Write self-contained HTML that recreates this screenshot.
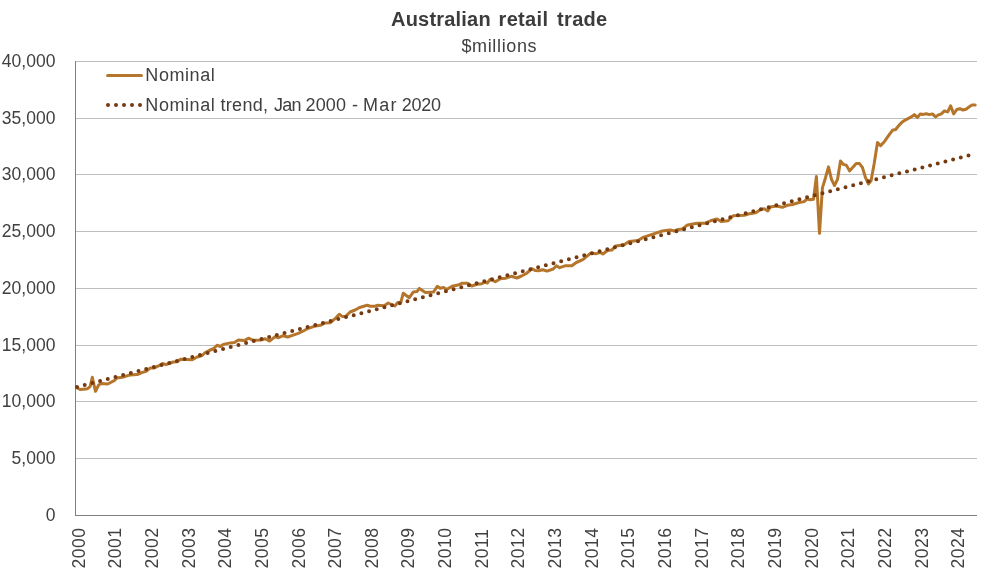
<!DOCTYPE html>
<html lang="en">
<head>
<meta charset="utf-8">
<title>Australian retail trade</title>
<style>
html,body{margin:0;padding:0;background:#fff;}
body{width:996px;height:577px;overflow:hidden;}
svg{display:block;}
</style>
</head>
<body>
<svg width="996" height="577" viewBox="0 0 996 577" font-family="'Liberation Sans', sans-serif" fill="#404040">
<rect width="996" height="577" fill="#ffffff"/>
<line x1="75" y1="61.5" x2="977" y2="61.5" stroke="#bfbfbf" stroke-width="1"/>
<line x1="75" y1="118.5" x2="977" y2="118.5" stroke="#bfbfbf" stroke-width="1"/>
<line x1="75" y1="174.5" x2="977" y2="174.5" stroke="#bfbfbf" stroke-width="1"/>
<line x1="75" y1="231.5" x2="977" y2="231.5" stroke="#bfbfbf" stroke-width="1"/>
<line x1="75" y1="288.5" x2="977" y2="288.5" stroke="#bfbfbf" stroke-width="1"/>
<line x1="75" y1="345.5" x2="977" y2="345.5" stroke="#bfbfbf" stroke-width="1"/>
<line x1="75" y1="401.5" x2="977" y2="401.5" stroke="#bfbfbf" stroke-width="1"/>
<line x1="75" y1="458.5" x2="977" y2="458.5" stroke="#bfbfbf" stroke-width="1"/>
<line x1="75.5" y1="61" x2="75.5" y2="516" stroke="#808080" stroke-width="1"/>
<line x1="75" y1="515.5" x2="977" y2="515.5" stroke="#808080" stroke-width="1"/>
<text y="25.6" font-size="20" font-weight="bold" fill="#3c3c3c"><tspan x="391" letter-spacing="0.2">Australian</tspan> <tspan x="498.5" letter-spacing="0.35">retail</tspan> <tspan x="557.1" letter-spacing="0.3">trade</tspan></text>
<text x="461.4" y="51.6" font-size="18" letter-spacing="0.65">$millions</text>
<text x="55.4" y="66.70" text-anchor="end" font-size="17.5">40,000</text>
<text x="55.4" y="123.70" text-anchor="end" font-size="17.5">35,000</text>
<text x="55.4" y="179.70" text-anchor="end" font-size="17.5">30,000</text>
<text x="55.4" y="236.70" text-anchor="end" font-size="17.5">25,000</text>
<text x="55.4" y="293.70" text-anchor="end" font-size="17.5">20,000</text>
<text x="55.4" y="350.70" text-anchor="end" font-size="17.5">15,000</text>
<text x="55.4" y="406.70" text-anchor="end" font-size="17.5">10,000</text>
<text x="55.4" y="463.70" text-anchor="end" font-size="17.5">5,000</text>
<text x="55.4" y="520.70" text-anchor="end" font-size="17.5">0</text>
<text transform="translate(84.63,568.6) rotate(-90)" font-size="17.6" letter-spacing="0.5">2000</text>
<text transform="translate(121.28,568.6) rotate(-90)" font-size="17.6" letter-spacing="0.5">2001</text>
<text transform="translate(157.93,568.6) rotate(-90)" font-size="17.6" letter-spacing="0.5">2002</text>
<text transform="translate(194.58,568.6) rotate(-90)" font-size="17.6" letter-spacing="0.5">2003</text>
<text transform="translate(231.23,568.6) rotate(-90)" font-size="17.6" letter-spacing="0.5">2004</text>
<text transform="translate(267.88,568.6) rotate(-90)" font-size="17.6" letter-spacing="0.5">2005</text>
<text transform="translate(304.53,568.6) rotate(-90)" font-size="17.6" letter-spacing="0.5">2006</text>
<text transform="translate(341.18,568.6) rotate(-90)" font-size="17.6" letter-spacing="0.5">2007</text>
<text transform="translate(377.83,568.6) rotate(-90)" font-size="17.6" letter-spacing="0.5">2008</text>
<text transform="translate(414.48,568.6) rotate(-90)" font-size="17.6" letter-spacing="0.5">2009</text>
<text transform="translate(451.14,568.6) rotate(-90)" font-size="17.6" letter-spacing="0.5">2010</text>
<text transform="translate(487.79,568.6) rotate(-90)" font-size="17.6" letter-spacing="0.5">2011</text>
<text transform="translate(524.44,568.6) rotate(-90)" font-size="17.6" letter-spacing="0.5">2012</text>
<text transform="translate(561.09,568.6) rotate(-90)" font-size="17.6" letter-spacing="0.5">2013</text>
<text transform="translate(597.74,568.6) rotate(-90)" font-size="17.6" letter-spacing="0.5">2014</text>
<text transform="translate(634.39,568.6) rotate(-90)" font-size="17.6" letter-spacing="0.5">2015</text>
<text transform="translate(671.04,568.6) rotate(-90)" font-size="17.6" letter-spacing="0.5">2016</text>
<text transform="translate(707.69,568.6) rotate(-90)" font-size="17.6" letter-spacing="0.5">2017</text>
<text transform="translate(744.34,568.6) rotate(-90)" font-size="17.6" letter-spacing="0.5">2018</text>
<text transform="translate(780.99,568.6) rotate(-90)" font-size="17.6" letter-spacing="0.5">2019</text>
<text transform="translate(817.64,568.6) rotate(-90)" font-size="17.6" letter-spacing="0.5">2020</text>
<text transform="translate(854.29,568.6) rotate(-90)" font-size="17.6" letter-spacing="0.5">2021</text>
<text transform="translate(890.95,568.6) rotate(-90)" font-size="17.6" letter-spacing="0.5">2022</text>
<text transform="translate(927.60,568.6) rotate(-90)" font-size="17.6" letter-spacing="0.5">2023</text>
<text transform="translate(964.25,568.6) rotate(-90)" font-size="17.6" letter-spacing="0.5">2024</text>
<polyline points="77.1,388.0 80.1,389.5 83.2,389.2 87.6,388.7 90.1,386.7 92.3,377.3 95.5,391.3 98.6,385.0 101.2,383.5 107.7,384.0 114.2,380.7 116.7,378.0 122.3,377.3 130.3,374.9 137.3,374.6 142.4,372.4 146.4,371.2 150.4,367.9 154.4,367.9 160.5,364.9 162.5,363.5 166.0,364.7 173.1,362.0 177.1,361.7 180.6,359.3 192.2,359.7 197.2,357.0 202.2,355.5 205.2,352.5 209.2,350.5 213.8,348.5 217.1,345.2 220.3,346.5 223.3,344.4 230.4,342.9 234.4,342.4 238.4,339.9 244.4,340.6 248.4,338.2 253.5,340.3 261.1,340.0 265.1,338.7 269.6,341.1 275.1,336.7 278.6,337.7 283.2,335.7 287.7,337.0 293.2,335.1 298.2,333.3 303.3,331.0 308.3,328.3 314.3,326.3 320.4,325.3 324.9,323.0 330.4,322.7 335.4,318.4 339.2,314.2 342.2,316.4 345.5,316.6 350.1,312.0 355.1,310.0 359.6,307.5 367.1,305.3 370.2,306.3 374.2,306.3 377.2,305.3 384.2,305.7 388.2,303.0 394.8,306.0 397.8,302.5 400.8,302.3 403.3,293.2 409.3,297.7 413.4,291.9 416.9,291.6 419.4,288.4 425.4,292.4 433.5,292.0 437.3,286.3 440.1,288.3 443.6,287.5 446.6,289.5 452.1,286.3 458.1,285.0 461.7,283.3 467.7,283.3 471.7,286.0 477.2,284.3 481.8,283.7 484.8,282.0 487.3,283.0 490.3,279.3 495.3,281.7 500.4,278.7 505.4,278.3 511.4,276.3 516.9,278.0 521.5,276.0 526.3,273.5 532.1,268.7 535.1,270.6 538.6,270.8 542.6,269.7 547.1,271.1 553.2,269.0 556.4,265.7 559.7,267.7 565.7,265.7 571.8,265.7 576.3,262.5 582.8,259.7 586.8,256.3 590.4,253.3 596.4,253.7 599.9,252.5 602.9,254.0 607.4,250.5 612.0,249.9 615.8,245.9 624.1,244.7 629.1,241.5 638.1,240.5 643.2,237.3 652.2,234.3 662.3,231.0 670.3,230.0 674.3,231.0 678.3,229.5 682.4,229.0 686.9,225.3 691.4,224.2 697.4,223.2 705.5,223.2 711.1,220.5 717.1,219.0 721.1,221.5 728.1,220.7 733.2,215.7 744.2,215.3 749.2,213.7 755.8,212.7 760.3,209.7 764.3,208.7 767.8,211.0 770.4,207.0 776.4,206.0 782.4,207.3 787.4,205.3 792.5,204.5 798.1,202.8 804.1,201.6 807.1,199.0 810.2,199.7 813.5,199.3 816.4,176.6 819.5,233.3 822.4,187.9 825.5,177.7 828.5,166.9 831.5,179.4 834.5,185.5 837.5,179.4 840.5,160.9 843.5,164.4 846.5,165.4 849.5,170.9 852.9,167.3 856.2,163.6 859.3,163.4 862.4,167.4 865.4,177.4 868.4,184.0 871.1,180.5 874.2,163.4 877.5,142.5 880.6,145.6 884.1,142.0 886.8,138.2 889.6,134.1 892.5,130.3 895.7,129.5 898.6,125.8 901.6,122.6 905.2,120.1 908.0,118.6 910.9,117.2 914.3,114.6 917.3,117.4 920.3,113.9 923.3,114.4 926.3,113.7 929.3,114.6 932.4,113.9 935.6,116.9 938.4,114.9 941.4,113.9 944.4,110.9 947.7,111.9 950.6,105.9 953.7,113.9 956.8,109.5 959.9,108.7 962.9,110.0 966.0,109.2 969.0,107.1 972.1,104.9 975.2,104.9" fill="none" stroke="#b5752a" stroke-width="3" stroke-linejoin="round" stroke-linecap="round"/>
<line x1="77.03" y1="387.0" x2="975.2" y2="153.66" stroke="#763a10" stroke-width="4" stroke-linecap="round" stroke-dasharray="0 7.94"/>
<line x1="107.6" y1="75.5" x2="141.4" y2="75.5" stroke="#b5752a" stroke-width="3" stroke-linecap="round"/>
<text x="145.3" y="80.9" font-size="18" letter-spacing="0.58">Nominal</text>
<line x1="108" y1="105.1" x2="141" y2="105.1" stroke="#763a10" stroke-width="4" stroke-linecap="round" stroke-dasharray="0 8"/>
<text y="110.6" font-size="18"><tspan x="145.3" letter-spacing="0.58">Nominal</tspan> <tspan x="220.5" letter-spacing="0.3">trend,</tspan> <tspan x="274" letter-spacing="-0.7">Jan</tspan> <tspan x="305.5" letter-spacing="0.15">2000</tspan> <tspan x="352.1">-</tspan> <tspan x="363" letter-spacing="1.2">Mar</tspan> <tspan x="401.8" letter-spacing="-0.3">2020</tspan></text>
</svg>
</body>
</html>
